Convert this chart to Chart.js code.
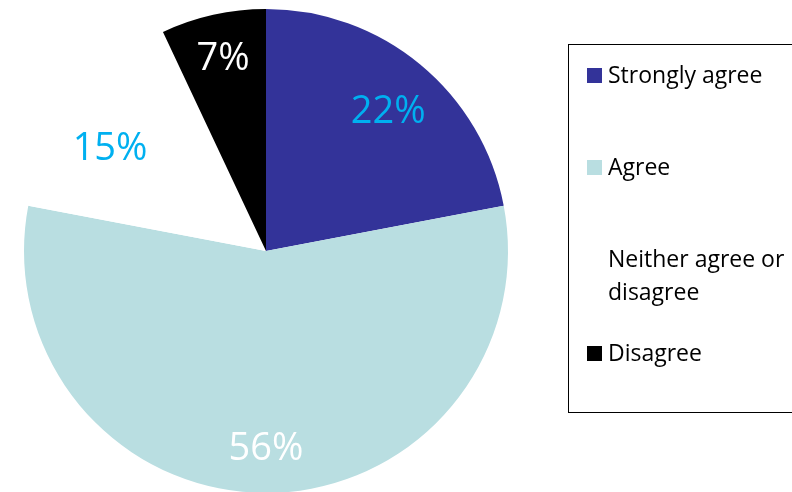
<!DOCTYPE html>
<html>
<head>
<meta charset="utf-8">
<script src="https://cdn.jsdelivr.net/npm/chart.js@4"></script>
<style>
  html, body { margin: 0; padding: 0; background: #fff; overflow: hidden; }
  #wrap { position: absolute; left: 0; top: 0; width: 792px; height: 500px; }
</style>
</head>
<body>
<div id="wrap"><canvas id="c"></canvas></div>
<script>
// Survey responses
const categories = ['Strongly agree', 'Agree', 'Neither agree or disagree', 'Disagree'];
const shares = [22, 56, 15, 7];
const valueLabels = ['22%', '56%', '15%', '7%'];

const sliceColors = ['#333399', '#B9DEE1', '#FFFFFF', '#000000'];
const labelColors = ['#00B0F0', '#FFFFFF', '#00B0F0', '#FFFFFF'];
// label placement: fraction of the radius, and a small turn (degrees) off the slice's mid angle
const labelRadius = [0.765, 0.818, 0.77, 0.812];
const labelTurn = [1.7, 0, -4.6, 0];
const legendLines = [['Strongly agree'], ['Agree'], ['Neither agree or', 'disagree'], ['Disagree']];

const FONT = '"Open Sans", "Liberation Sans", sans-serif';

// Percent labels placed along each slice
const sliceLabels = {
  id: 'sliceLabels',
  afterDatasetsDraw(chart) {
    const ctx = chart.ctx;
    const meta = chart.getDatasetMeta(0);
    ctx.save();
    ctx.font = '38px ' + FONT;
    ctx.textAlign = 'center';
    ctx.textBaseline = 'middle';
    meta.data.forEach((arc, i) => {
      const p = arc.getProps(['x', 'y', 'startAngle', 'endAngle', 'outerRadius'], true);
      const mid = (p.startAngle + p.endAngle) / 2 + labelTurn[i] * Math.PI / 180;
      const r = p.outerRadius * labelRadius[i];
      ctx.fillStyle = labelColors[i];
      ctx.fillText(valueLabels[i], p.x + Math.cos(mid) * r, p.y + Math.sin(mid) * r);
    });
    ctx.restore();
  }
};

// Boxed legend on the right
const boxLegend = {
  id: 'boxLegend',
  afterDraw(chart) {
    const ctx = chart.ctx;
    ctx.save();
    ctx.strokeStyle = '#000';
    ctx.lineWidth = 1;
    ctx.strokeRect(568.5, 44.5, 300, 368);
    ctx.font = '23px ' + FONT;
    ctx.textBaseline = 'alphabetic';
    const rowTop = [68, 160, 252, 346];
    categories.forEach((c, i) => {
      ctx.fillStyle = sliceColors[i];
      ctx.fillRect(587, rowTop[i], 15, 15);
      ctx.fillStyle = '#000';
      legendLines[i].forEach((line, k) => {
        const base = i === 2 ? 267 + k * 33 : rowTop[i] + 15;
        ctx.fillText(line, 608, base);
      });
    });
    ctx.restore();
  }
};

new Chart(document.getElementById('c'), {
  type: 'pie',
  data: {
    labels: categories,
    datasets: [{
      data: shares,
      backgroundColor: sliceColors,
      borderWidth: 0
    }]
  },
  options: {
    responsive: true,
    maintainAspectRatio: false,
    animation: false,
    layout: { padding: { left: 24, right: 284, top: 9, bottom: 7 } },
    plugins: {
      legend: { display: false },
      tooltip: { enabled: false }
    }
  },
  plugins: [sliceLabels, boxLegend]
});
</script>
</body>
</html>
